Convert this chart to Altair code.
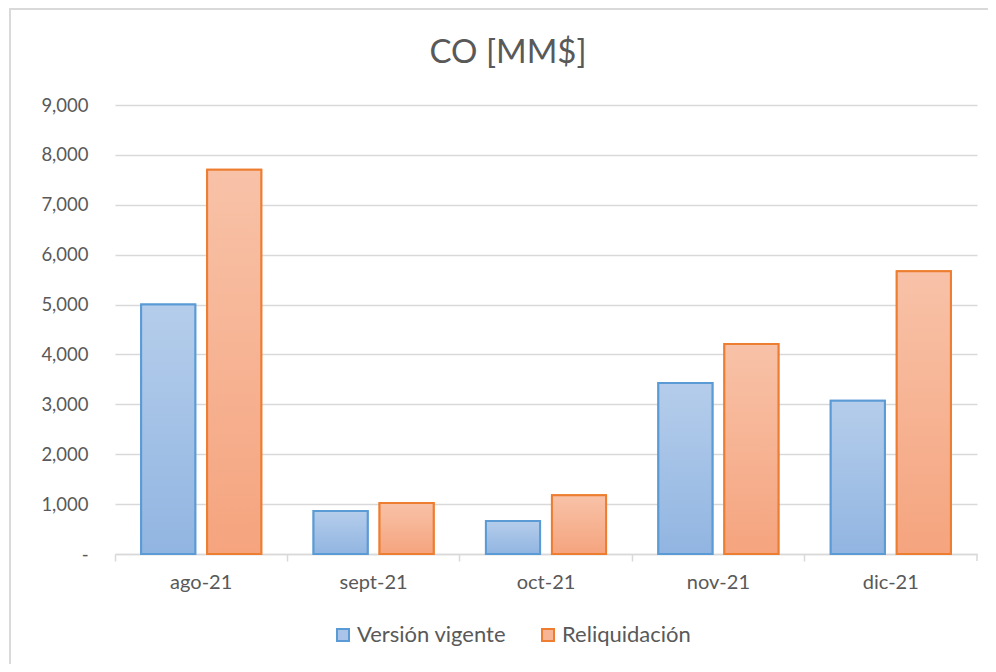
import altair as alt
import pandas as pd

categories = ["ago-21", "sept-21", "oct-21", "nov-21", "dic-21"]
series_names = ["Versión vigente", "Reliquidación"]
vigente = [5000, 860, 660, 3430, 3070]
reliquidacion = [7700, 1020, 1180, 4210, 5670]
y_ticks = [0, 1000, 2000, 3000, 4000, 5000, 6000, 7000, 8000, 9000]
chart_title = "CO [MM$]"

rows = []
for c, v in zip(categories, vigente):
    rows.append({"mes": c, "serie": series_names[0], "valor": v})
for c, v in zip(categories, reliquidacion):
    rows.append({"mes": c, "serie": series_names[1], "valor": v})
df = pd.DataFrame(rows)

FONT = "Lato"
TXT = "#595959"
GRID = "#d9d9d9"

blue_grad = alt.LinearGradient(
    gradient="linear", x1=0, y1=0, x2=0, y2=1,
    stops=[alt.GradientStop(offset=0, color="#b5cdeb"),
           alt.GradientStop(offset=1, color="#91b5e1")],
)
orange_grad = alt.LinearGradient(
    gradient="linear", x1=0, y1=0, x2=0, y2=1,
    stops=[alt.GradientStop(offset=0, color="#f8c2a8"),
           alt.GradientStop(offset=1, color="#f5a47e")],
)

x_enc = alt.X(
    "mes:N", sort=categories, title=None,
    scale=alt.Scale(paddingInner=0, paddingOuter=0),
    axis=alt.Axis(
        bandPosition=0, labelAngle=0, labelFont=FONT,
        labelFontSize=20, labelColor=TXT, labelPadding=11,
        domainColor=GRID, domainWidth=1.5, tickColor=GRID, tickWidth=1.5,
        tickSize=7, grid=False,
    ),
)
xoff_enc = alt.XOffset(
    "serie:N", sort=series_names,
    scale=alt.Scale(domain=series_names, paddingInner=0.18, paddingOuter=0.396),
)
y_enc = alt.Y(
    "valor:Q", title=None,
    scale=alt.Scale(domain=[0, 9000], nice=False),
    axis=alt.Axis(
        values=y_ticks, domain=False, ticks=False, labelPadding=27,
        labelExpr="datum.value == 0 ? '-' : format(datum.value, ',')",
        labelFont=FONT, labelFontSize=18.5, labelColor=TXT,
        gridColor=GRID, gridWidth=1.5,
    ),
)

base = alt.Chart(df)
one = base.transform_filter(alt.datum.mes == categories[0]).transform_filter(
    alt.datum.serie == series_names[0]
)

legend_layer = base.mark_bar(strokeWidth=2).encode(
    x=x_enc, xOffset=xoff_enc, y=y_enc,
    fill=alt.Fill("serie:N", sort=series_names,
                  scale=alt.Scale(domain=series_names, range=["#a9c4e8", "#f7b596"]),
                  legend=alt.Legend(
                      title=None, orient="none", legendX=217, legendY=519,
                      direction="horizontal", symbolType="square", symbolSize=144,
                      symbolStrokeWidth=2, labelFont=FONT, labelFontSize=22,
                      labelColor=TXT, columnPadding=30, labelOffset=3,
                  )),
    stroke=alt.Stroke("serie:N", sort=series_names,
                      scale=alt.Scale(domain=series_names, range=["#5b9bd5", "#ed7d31"])),
)

blue_layer = base.transform_filter(alt.datum.serie == series_names[0]).mark_bar(
    fill=blue_grad, stroke="#5b9bd5", strokeWidth=2
).encode(x=x_enc, xOffset=xoff_enc, y=y_enc)

orange_layer = base.transform_filter(alt.datum.serie == series_names[1]).mark_bar(
    fill=orange_grad, stroke="#ed7d31", strokeWidth=2
).encode(x=x_enc, xOffset=xoff_enc, y=y_enc)

end_tick = one.mark_rule(color=GRID, strokeWidth=1.5).encode(
    x=alt.value(862), y=alt.value(449), y2=alt.value(456)
)

frame = one.mark_rect(fill=None, stroke=GRID, strokeWidth=2).encode(
    x=alt.value(-105), x2=alt.value(900), y=alt.value(-96), y2=alt.value(600)
)

title_layer = one.mark_text(
    font=FONT, fontSize=33, color=TXT, align="center", baseline="middle"
).encode(
    x=alt.value(393), y=alt.value(-52), text=alt.value(chart_title)
)

chart = alt.layer(frame, legend_layer, blue_layer, orange_layer, end_tick, title_layer).properties(
    width=862, height=449,
    autosize=alt.AutoSizeParams(type="none"),
    padding={"left": 107, "top": 97, "right": 11, "bottom": 110},
).configure_view(stroke=None)

chart.save("out.html", embed_options={"renderer": "svg", "actions": False})
